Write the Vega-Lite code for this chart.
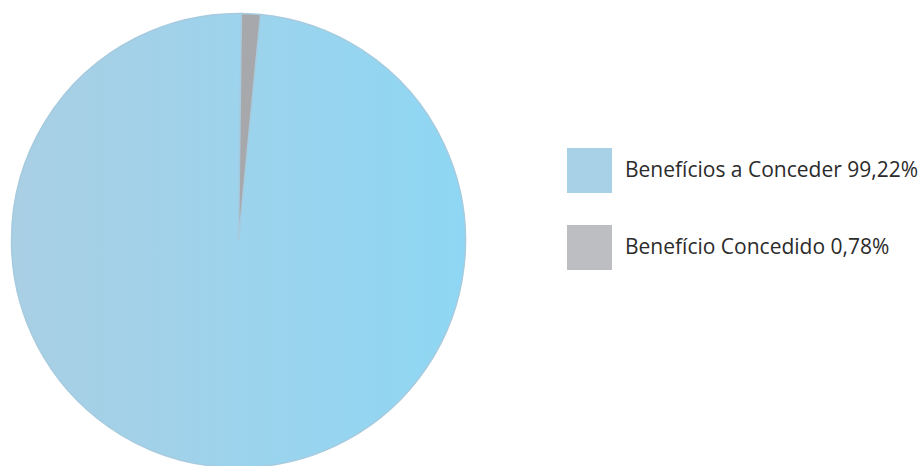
{
  "$schema": "https://vega.github.io/schema/vega-lite/v6.json",
  "width": 477,
  "height": 481,
  "autosize": {"type": "none"},
  "padding": {"left": 0, "top": 0, "right": 447, "bottom": 0},
  "background": "white",
  "config": {"view": {"stroke": null}},
  "data": {
    "values": [
      {"categoria": "Benefícios a Conceder 99,22%", "valor": 98.66, "ordem": 2},
      {"categoria": "Benefício Concedido 0,78%", "valor": 1.34, "ordem": 1}
    ]
  },
  "encoding": {
    "theta": {"field": "valor", "type": "quantitative", "stack": true, "scale": {"range": [0.0129, 6.2961]}},
    "order": {"field": "ordem", "type": "ordinal"}
  },
  "layer": [
    {
      "mark": {"type": "arc", "radius": 227},
      "encoding": {
        "color": {
          "field": "categoria",
          "type": "nominal",
          "scale": {
            "domain": ["Benefícios a Conceder 99,22%", "Benefício Concedido 0,78%"],
            "range": ["#a8d1e7", "#bcbec1"]
          },
          "legend": {
            "title": null,
            "orient": "none",
            "legendX": 567,
            "legendY": 148,
            "padding": 0,
            "symbolType": "square",
            "symbolSize": 2025,
            "symbolStrokeWidth": 0,
            "symbolOpacity": 1,
            "rowPadding": 32,
            "labelOffset": 13,
            "labelFont": "Open Sans",
            "labelFontSize": 21,
            "labelFontWeight": "normal",
            "labelColor": "#2b2b2b",
            "labelLimit": 400
          }
        }
      }
    },
    {
      "mark": {"type": "arc", "radius": 227, "stroke": "#a6cbdf", "strokeWidth": 1.5},
      "encoding": {
        "fill": {
          "condition": {"test": "datum.ordem === 1", "value": "#a6a8ab"},
          "value": {
            "gradient": "linear",
            "x1": 0, "y1": 0, "x2": 1, "y2": 0,
            "stops": [
              {"offset": 0, "color": "#a9cfe4"},
              {"offset": 0.5, "color": "#9dd3ec"},
              {"offset": 1, "color": "#8ed7f4"}
            ]
          }
        }
      }
    }
  ]
}
